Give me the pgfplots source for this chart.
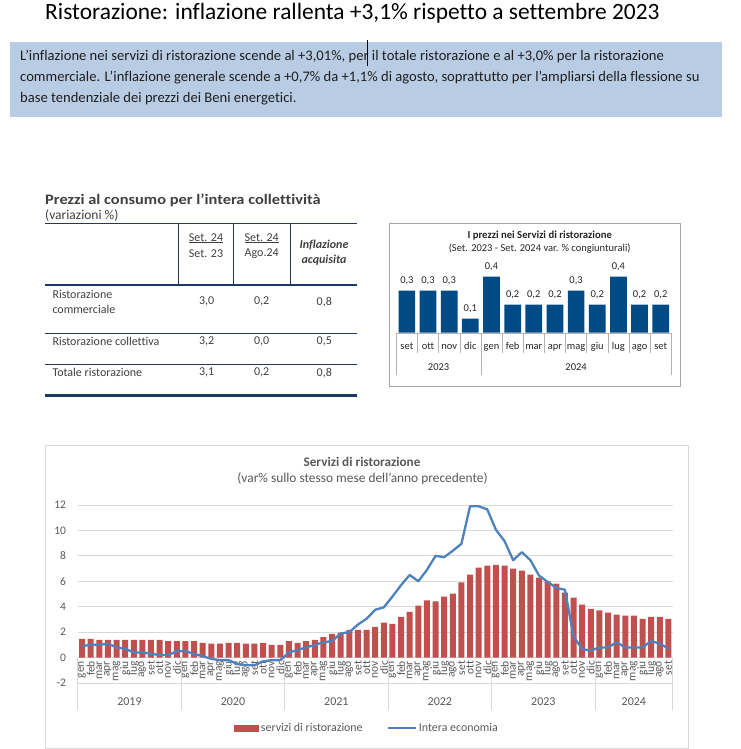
\documentclass[border=0pt]{standalone}
\usepackage{pgfplots}
\pgfplotsset{compat=1.18}
\usepackage{fontspec}
\setmainfont{Carlito}[Ligatures=NoCommon]
\definecolor{barred}{HTML}{C0504D}
\definecolor{lineblue}{HTML}{4F81BD}
\definecolor{boxblue}{HTML}{B8CCE4}
\definecolor{darkbar}{HTML}{004A86}
\definecolor{txtgray}{HTML}{595959}
\definecolor{gridgray}{HTML}{D9D9D9}
\definecolor{tblue}{HTML}{1F3864}
\definecolor{tgray}{HTML}{404040}
\newcommand{\fs}[1]{\fontsize{#1}{#1}\selectfont}
\begin{document}
\begin{tikzpicture}
\useasboundingbox (0pt,0pt) rectangle (740pt,-749pt);
\fill[white] (0pt,0pt) rectangle (740pt,-749pt);
% ---- title
\node[anchor=west, inner sep=0pt] at (45pt,-13pt) {\fs{23.4}Ristorazione: inflazione rallenta +3,1\% rispetto a settembre 2023};
% ---- text box
\fill[boxblue] (10pt,-42pt) rectangle (722pt,-117pt);
\begin{scope}[every node/.style={anchor=west, inner sep=0pt, text=black!88}]
\node at (20pt,-57pt) {\fs{14.6}L’inflazione nei servizi di ristorazione scende al +3,01\%, per il totale ristorazione e al +3,0\% per la ristorazione};
\node at (20pt,-78pt) {\fs{14.6}commerciale. L’inflazione generale scende a +0,7\% da +1,1\% di agosto, soprattutto per l’ampliarsi della flessione su};
\node at (20pt,-99pt) {\fs{14.6}base tendenziale dei prezzi dei Beni energetici.};
\end{scope}
\draw[black, line width=0.7pt] (367pt,-40pt) -- (367pt,-66pt);
% ---- table
\node[anchor=west, inner sep=0pt, text=tgray] at (45pt,-200pt) {\scalebox{1.13}[1]{\fs{14.5}\bfseries Prezzi al consumo per l’intera collettività}};
\node[anchor=west, inner sep=0pt, text=tgray] at (45pt,-215pt) {\fs{13.5}(variazioni \%)};
\draw[tblue, line width=1.2pt] (45pt,-223.3pt) -- (357.3pt,-223.3pt);
\foreach \xx in {178.3,233.3,290} {\draw[tblue, line width=1pt] (\xx pt,-223.3pt) -- (\xx pt,-284.7pt);}
\draw[tblue, line width=2pt] (45pt,-284.7pt) -- (357.3pt,-284.7pt);
\draw[tblue, line width=1pt] (45pt,-333.3pt) -- (357.3pt,-333.3pt);
\draw[tblue, line width=1pt] (45pt,-364pt) -- (357.3pt,-364pt);
\draw[tblue, line width=2.5pt] (45pt,-395.7pt) -- (357.3pt,-395.7pt);
\begin{scope}[every node/.style={inner sep=0pt, text=tgray, font=\fs{12}}]
\node at (206pt,-238.3pt) {\underline{Set. 24}};
\node at (206pt,-253.3pt) {Set. 23};
\node at (261.7pt,-238.3pt) {\underline{Set. 24}};
\node at (261.7pt,-253.3pt) {Ago.24};
\node at (324pt,-245pt) {\bfseries\itshape Inflazione};
\node at (324pt,-260.7pt) {\bfseries\itshape acquisita};
\node[anchor=west] at (52.3pt,-294pt) {Ristorazione};
\node[anchor=west] at (52.3pt,-309.3pt) {commerciale};
\node[anchor=west] at (52.3pt,-341.7pt) {Ristorazione collettiva};
\node[anchor=west] at (52.3pt,-372.7pt) {Totale ristorazione};
\node at (206.7pt,-301.7pt) {3,0};
\node at (261.7pt,-301.7pt) {0,2};
\node at (324.3pt,-301.7pt) {0,8};
\node at (206.7pt,-341.7pt) {3,2};
\node at (261.7pt,-341.7pt) {0,0};
\node at (324.3pt,-341.7pt) {0,5};
\node at (206.7pt,-372.7pt) {3,1};
\node at (261.7pt,-372.7pt) {0,2};
\node at (324.3pt,-372.7pt) {0,8};
\end{scope}
% ---- small chart
\draw[gray!70, line width=0.8pt] (389.7pt,-223.3pt) rectangle (680.7pt,-386pt);
\node[font=\fs{10.7}\bfseries, text=black!85] at (539.7pt,-236pt) {I prezzi nei Servizi di ristorazione};
\node[font=\fs{10.5}, text=black!85] at (539.7pt,-248.3pt) {(Set. 2023 - Set. 2024 var. \% congiunturali)};
\begin{axis}[at={(396.3pt,-332.7pt)}, anchor=south west, scale only axis,
  width=275pt, height=70pt, xmin=-0.5, xmax=12.5, ymin=0, ymax=0.5,
  axis line style={draw=none}, ytick=\empty, major tick length=0pt,
  xtick={0,...,12}, xticklabels={set,ott,nov,dic,gen,feb,mar,apr,mag,giu,lug,ago,set},
  xticklabel style={font=\fs{10.5}, text=black!85, anchor=center, yshift=-14pt, text height=1.5ex, text depth=0.25ex},
  clip=false,
  /pgf/number format/assume math mode=true]
\addplot[ybar, bar width=16.7pt, bar shift=0pt, fill=darkbar, draw=none,
  nodes near coords, nodes near coords style={font=\fs{10.5}, text=black!85, anchor=south, yshift=2pt,
  /pgf/number format/.cd, use comma, fixed, fixed zerofill, precision=1, assume math mode=true}]
coordinates {(0,0.3) (1,0.3) (2,0.3) (3,0.1) (4,0.4) (5,0.2) (6,0.2) (7,0.2) (8,0.3) (9,0.2) (10,0.4) (11,0.2) (12,0.2)};
\draw[gray!60] (axis cs:-0.5,0) -- (axis cs:12.5,0);
\pgfplotsinvokeforeach{0.5,1.5,2.5,4.5,5.5,6.5,7.5,8.5,9.5,10.5,11.5}{\draw[gray!60] (axis cs:#1,0) -- (axis cs:#1,-0.147);}
\pgfplotsinvokeforeach{-0.5,3.5,12.5}{\draw[gray!60] (axis cs:#1,0) -- (axis cs:#1,-0.302);}
\node[font=\fs{10.5}, text=black!85] at (axis cs:1.5,-0.247) {2023};
\node[font=\fs{10.5}, text=black!85] at (axis cs:8,-0.247) {2024};
\end{axis}
% ---- big chart
\draw[gridgray, line width=0.8pt] (45.5pt,-445.5pt) rectangle (688pt,-748pt);
\node[font=\fs{13.2}\bfseries, text=txtgray] at (362pt,-462pt) {Servizi di ristorazione};
\node[font=\fs{13.4}, text=txtgray] at (362.5pt,-478.3pt) {(var\% sullo stesso mese dell'anno precedente)};
\begin{axis}[at={(77.7pt,-683pt)}, anchor=south west, scale only axis,
  width=595pt, height=178pt, xmin=-0.5, xmax=68.5, ymin=-2, ymax=12,
  ytick={-2,0,2,4,6,8,10,12}, yticklabels={-2,0,2,4,6,8,10,12},
  ymajorgrids, grid style={gridgray, line width=0.8pt},
  axis line style={draw=none}, major tick length=0pt,
  xtick={0,...,68},
  xticklabels={gen,feb,mar,apr,mag,giu,lug,ago,set,ott,nov,dic,gen,feb,mar,apr,mag,giu,lug,ago,set,ott,nov,dic,gen,feb,mar,apr,mag,giu,lug,ago,set,ott,nov,dic,gen,feb,mar,apr,mag,giu,lug,ago,set,ott,nov,dic,gen,feb,mar,apr,mag,giu,lug,ago,set,ott,nov,dic,gen,feb,mar,apr,mag,giu,lug,ago,set},
  xticklabel style={font=\fs{11.5}, text=txtgray, rotate=90, anchor=east, inner sep=1pt, xshift=-0.8pt},
  xticklabel shift=-24pt,
  yticklabel style={font=\fs{11.5}, text=txtgray, anchor=east, xshift=-8.2pt},
  clip=false,
  legend style={at={(0.486,-0.253)}, anchor=center, draw=none, fill=none, legend columns=2, font=\fs{11.9}, text=txtgray,
    /tikz/every even column/.append style={column sep=22pt}},
  ]
\addplot[ybar, bar width=6pt, bar shift=0pt, fill=barred, draw=none,
  legend image code/.code={\fill[barred] (0pt,-3.5pt) rectangle (25pt,3.5pt);}]
coordinates {
(0,1.47) (1,1.47) (2,1.4) (3,1.4) (4,1.4) (5,1.4) (6,1.4) (7,1.4) (8,1.4) (9,1.4) (10,1.3) (11,1.3)
(12,1.3) (13,1.3) (14,1.15) (15,1.1) (16,1.1) (17,1.15) (18,1.15) (19,1.1) (20,1.1) (21,1.15) (22,1.0) (23,1.0)
(24,1.3) (25,1.15) (26,1.3) (27,1.4) (28,1.6) (29,1.87) (30,1.97) (31,2.18) (32,2.18) (33,2.18) (34,2.42) (35,2.74)
(36,2.66) (37,3.2) (38,3.6) (39,4.08) (40,4.5) (41,4.42) (42,4.8) (43,5.03) (44,5.92) (45,6.53) (46,7.08) (47,7.24)
(48,7.3) (49,7.24) (50,7.0) (51,6.84) (52,6.53) (53,6.29) (54,6.0) (55,5.82) (56,5.1) (57,4.71) (58,4.16) (59,3.84)
(60,3.71) (61,3.53) (62,3.37) (63,3.29) (64,3.29) (65,3.05) (66,3.2) (67,3.2) (68,3.05)};
\addlegendentry{servizi di ristorazione}
\addplot[lineblue, line width=2.3pt, line join=round, mark=none,
  legend image code/.code={\draw[lineblue, line width=2.3pt] (0pt,0pt) -- (28pt,0pt);}]
coordinates {
(0,0.9) (1,1.0) (2,1.0) (3,1.1) (4,0.8) (5,0.7) (6,0.4) (7,0.4) (8,0.3) (9,0.2) (10,0.2) (11,0.5)
(12,0.5) (13,0.3) (14,0.1) (15,-0.1) (16,-0.2) (17,-0.2) (18,-0.5) (19,-0.6) (20,-0.6) (21,-0.3) (22,-0.2) (23,-0.2)
(24,0.4) (25,0.6) (26,0.8) (27,1.0) (28,1.2) (29,1.3) (30,1.9) (31,2.0) (32,2.6) (33,3.05) (34,3.76) (35,3.95)
(36,4.8) (37,5.7) (38,6.5) (39,6.0) (40,6.9) (41,8.0) (42,7.9) (43,8.4) (44,8.95) (45,11.9) (46,11.9) (47,11.65)
(48,10.05) (49,9.16) (50,7.66) (51,8.29) (52,7.66) (53,6.45) (54,5.95) (55,5.47) (56,5.34) (57,1.66) (58,0.66) (59,0.55)
(60,0.8) (61,0.8) (62,1.2) (63,0.8) (64,0.8) (65,0.8) (66,1.3) (67,1.1) (68,0.7)};
\addlegendentry{Intera economia}
\pgfplotsinvokeforeach{-0.5,11.5,23.5,35.5,47.5,59.5,68.5}{\draw[gridgray, line width=0.8pt] (axis cs:#1,0) -- (axis cs:#1,-4.1);}
\node[font=\fs{12}, text=txtgray] at (axis cs:5.5,-3.47) {2019};
\node[font=\fs{12}, text=txtgray] at (axis cs:17.5,-3.47) {2020};
\node[font=\fs{12}, text=txtgray] at (axis cs:29.5,-3.47) {2021};
\node[font=\fs{12}, text=txtgray] at (axis cs:41.5,-3.47) {2022};
\node[font=\fs{12}, text=txtgray] at (axis cs:53.5,-3.47) {2023};
\node[font=\fs{12}, text=txtgray] at (axis cs:64,-3.47) {2024};
\end{axis}
\end{tikzpicture}
\end{document}
